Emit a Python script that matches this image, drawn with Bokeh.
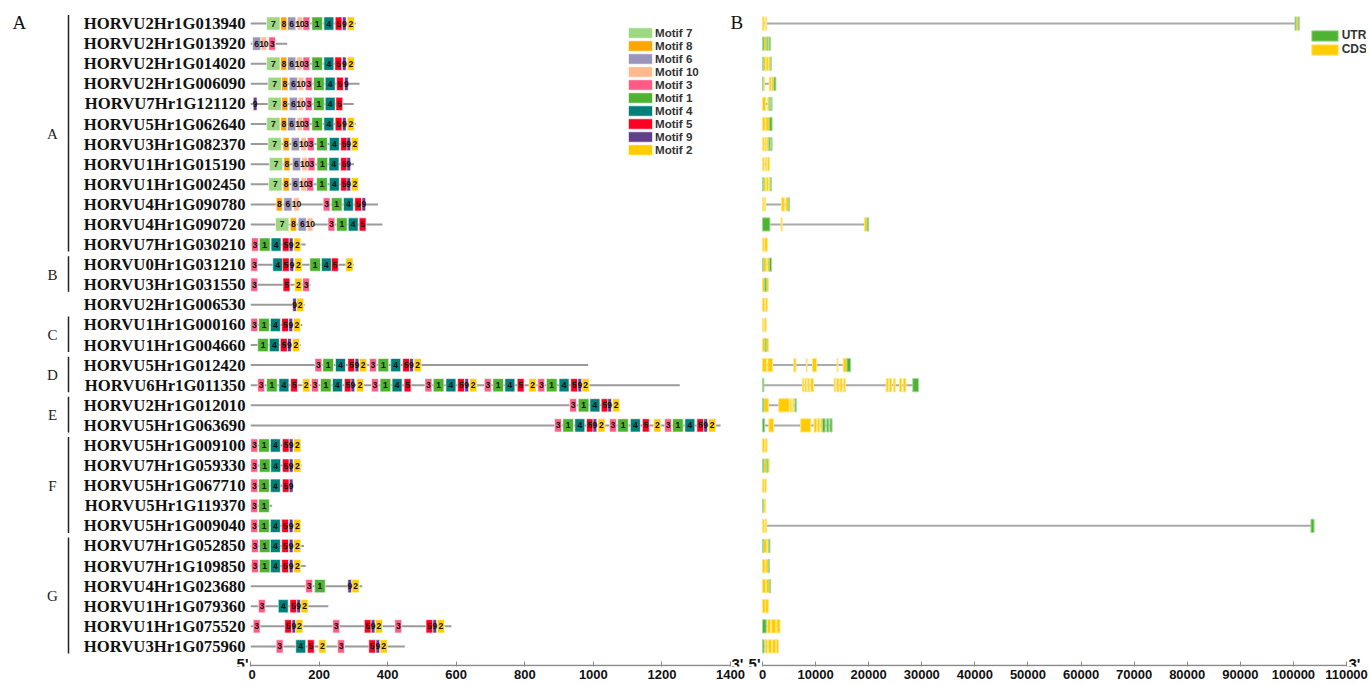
from bokeh.plotting import figure
from bokeh.layouts import row
from bokeh.models import Range1d, FixedTicker, BasicTickFormatter, Label, Legend, LegendItem
from bokeh.core.properties import value
from bokeh.embed import file_html
from bokeh.resources import INLINE

genes = ["HORVU2Hr1G013940", "HORVU2Hr1G013920", "HORVU2Hr1G014020", "HORVU2Hr1G006090",
         "HORVU7Hr1G121120", "HORVU5Hr1G062640", "HORVU3Hr1G082370", "HORVU1Hr1G015190",
         "HORVU1Hr1G002450", "HORVU4Hr1G090780", "HORVU4Hr1G090720", "HORVU7Hr1G030210",
         "HORVU0Hr1G031210", "HORVU3Hr1G031550", "HORVU2Hr1G006530", "HORVU1Hr1G000160",
         "HORVU1Hr1G004660", "HORVU5Hr1G012420", "HORVU6Hr1G011350", "HORVU2Hr1G012010",
         "HORVU5Hr1G063690", "HORVU5Hr1G009100", "HORVU7Hr1G059330", "HORVU5Hr1G067710",
         "HORVU5Hr1G119370", "HORVU5Hr1G009040", "HORVU7Hr1G052850", "HORVU7Hr1G109850",
         "HORVU4Hr1G023680", "HORVU1Hr1G079360", "HORVU1Hr1G075520", "HORVU3Hr1G075960"]

group_names = ["A", "B", "C", "D", "E", "F", "G"]
group_first = [0, 12, 15, 17, 19, 21, 26]
group_last = [11, 13, 16, 18, 20, 25, 31]

# protein lengths (aa)
a_len = [307, 107, 305, 318, 301, 307, 315, 302, 312, 372, 385, 161,
         302, 175, 158, 151, 146, 985, 1252, 1077, 1371, 146, 149, 124,
         63, 146, 156, 161, 326, 227, 586, 450]

motif_order = [7, 8, 6, 10, 3, 1, 4, 5, 9, 2]
motif_len = {7: 39, 8: 18, 6: 24, 10: 16, 3: 20, 1: 31, 4: 29, 5: 20, 9: 11, 2: 21}
motif_color = {7: "#9DD982", 8: "#FFA500", 6: "#9B95BC", 10: "#FFB98C", 3: "#FF5C85",
               1: "#4DB331", 4: "#008079", 5: "#FF0022", 9: "#623F8C", 2: "#FFCC00"}

a_motifs = [
    [7, 8, 6, 10, 3, 1, 4, 5, 9, 2],
    [6, 10, 3],
    [7, 8, 6, 10, 3, 1, 4, 5, 9, 2],
    [7, 8, 6, 10, 3, 1, 4, 5, 9],
    [9, 7, 8, 6, 10, 3, 1, 4, 5],
    [7, 8, 6, 10, 3, 1, 4, 5, 9, 2],
    [7, 8, 6, 10, 3, 1, 4, 5, 9, 2],
    [7, 8, 6, 10, 3, 1, 4, 5, 9],
    [7, 8, 6, 10, 3, 1, 4, 5, 9, 2],
    [8, 6, 10, 3, 1, 4, 5, 9],
    [7, 8, 6, 10, 3, 1, 4, 5],
    [3, 1, 4, 5, 9, 2],
    [3, 4, 5, 9, 2, 1, 4, 5, 2],
    [3, 5, 2, 3],
    [9, 2],
    [3, 1, 4, 5, 9, 2],
    [1, 4, 5, 9, 2],
    [3, 1, 4, 5, 9, 2, 3, 1, 4, 5, 9, 2],
    [3, 1, 4, 5, 2, 3, 1, 4, 5, 9, 2, 3, 1, 4, 5, 3, 1, 4, 5, 9, 2, 3, 1, 4, 5, 2, 3, 1, 4, 5, 9, 2],
    [3, 1, 4, 5, 9, 2],
    [3, 1, 4, 5, 9, 2, 3, 1, 4, 5, 2, 3, 1, 4, 5, 9, 2],
    [3, 1, 4, 5, 9, 2],
    [3, 1, 4, 5, 9, 2],
    [3, 1, 4, 5, 9],
    [3, 1],
    [3, 1, 4, 5, 9, 2],
    [3, 1, 4, 5, 9, 2],
    [3, 1, 4, 5, 9, 2],
    [3, 1, 9, 2],
    [3, 4, 5, 9, 2],
    [3, 5, 9, 2, 3, 5, 9, 2, 3, 5, 9, 2],
    [3, 4, 5, 2, 3, 5, 9, 2],
]

a_starts = [
    [47, 88, 108, 136, 153, 179, 214, 247, 268, 282],
    [6, 31, 53],
    [47, 88, 108, 135, 153, 179, 214, 246, 268, 282],
    [51, 91, 113, 139, 160, 184, 218, 251, 274],
    [8, 51, 91, 113, 139, 160, 184, 218, 249],
    [47, 88, 108, 136, 153, 179, 214, 247, 268, 282],
    [51, 95, 119, 147, 166, 193, 230, 263, 281, 294],
    [55, 97, 122, 150, 168, 194, 229, 263, 281],
    [53, 95, 119, 147, 164, 193, 230, 263, 281, 294],
    [75, 97, 126, 212, 236, 271, 304, 325],
    [73, 116, 139, 166, 226, 251, 285, 317],
    [3, 26, 60, 93, 113, 126],
    [1, 65, 93, 115, 129, 173, 207, 236, 278],
    [1, 95, 129, 152],
    [123, 134],
    [1, 24, 58, 91, 112, 125],
    [21, 55, 87, 108, 122],
    [188, 211, 248, 284, 305, 318, 347, 372, 409, 444, 464, 477],
    [21, 47, 83, 117, 152, 178, 204, 239, 274, 293, 309, 353, 378, 413, 448, 509, 533, 570,
     604, 625, 639, 682, 707, 742, 778, 812, 838, 863, 900, 934, 955, 967],
    [931, 956, 990, 1023, 1042, 1056],
    [887, 911, 946, 980, 999, 1013, 1047, 1071, 1108, 1143, 1176, 1208, 1231, 1267, 1302, 1322, 1336],
    [1, 24, 58, 93, 113, 126],
    [1, 26, 59, 93, 113, 126],
    [1, 24, 58, 93, 113],
    [1, 24],
    [1, 24, 58, 91, 113, 126],
    [3, 26, 58, 91, 113, 126],
    [3, 26, 58, 91, 113, 126],
    [161, 187, 284, 296],
    [23, 81, 115, 135, 147],
    [8, 100, 121, 132, 240, 332, 352, 364, 421, 512, 532, 545],
    [75, 132, 166, 199, 254, 345, 366, 378],
]

# gene structures (bp)
b_len = [101100, 1500, 1650, 2520, 1800, 1800, 1800, 1300, 1700, 5100, 20000, 900,
         1700, 1100, 900, 700, 1100, 16600, 29400, 6350, 13100, 850, 1250, 700,
         600, 103900, 1400, 1300, 1500, 1100, 3300, 3000]
b_utr = [
    [[100300, 100500], [100900, 101100]],
    [[0, 280], [750, 1000], [1250, 1500]],
    [[0, 150], [1500, 1650]],
    [[0, 100], [2140, 2520]],
    [[1300, 1500], [1700, 1800]],
    [[1300, 1800]],
    [[1200, 1450], [1650, 1800]],
    [],
    [[0, 200], [1500, 1700]],
    [[4900, 5100]],
    [[0, 1400], [19700, 20000]],
    [],
    [[0, 150], [1300, 1700]],
    [[400, 700]],
    [],
    [],
    [[500, 700]],
    [[15900, 16600]],
    [[0, 250], [28300, 29400]],
    [[0, 250], [6100, 6350]],
    [[0, 400], [11300, 11800], [12100, 12500], [12700, 13100]],
    [],
    [[0, 250], [750, 1000]],
    [],
    [[0, 150]],
    [[103300, 103900]],
    [[0, 200], [1200, 1400]],
    [[1100, 1300]],
    [[1300, 1500]],
    [],
    [[0, 700]],
    [[0, 300]],
]
b_cds = [
    [[0, 300], [550, 800], [100500, 100900]],
    [[280, 750], [1000, 1250]],
    [[150, 600], [700, 1100], [1200, 1500]],
    [[100, 380], [1260, 1640], [1760, 2140]],
    [[0, 600], [1000, 1300], [1500, 1700]],
    [[0, 500], [650, 1300]],
    [[0, 300], [450, 700], [850, 1200], [1450, 1650]],
    [[0, 300], [500, 800], [950, 1300]],
    [[200, 600], [750, 1100], [1250, 1500]],
    [[0, 250], [350, 600], [3600, 4100], [4400, 4900]],
    [[3500, 3700], [19200, 19700]],
    [[0, 300], [400, 900]],
    [[150, 700], [900, 1300]],
    [[0, 400], [700, 1100]],
    [[0, 400], [550, 900]],
    [[0, 200], [350, 700]],
    [[0, 500], [700, 1100]],
    [[0, 750], [1000, 1900], [5900, 6300], [8250, 8400], [9400, 10200], [14050, 14200], [15200, 15900]],
    [[7500, 7800], [8000, 8300], [8500, 8800], [9100, 9600], [13500, 13800], [14000, 14400],
     [14600, 15000], [15300, 15600], [23300, 23700], [23900, 24300], [24700, 25000],
     [25800, 26200], [26500, 27000]],
    [[250, 1100], [3050, 5050], [5200, 5500], [5650, 5900]],
    [[1200, 2100], [7200, 9100], [9700, 10200], [10400, 10800], [11000, 11300]],
    [[0, 400], [500, 850]],
    [[250, 750], [1000, 1250]],
    [[0, 300], [400, 700]],
    [[300, 600]],
    [[0, 300], [500, 800]],
    [[200, 800], [900, 1200]],
    [[0, 500], [650, 1100]],
    [[0, 600], [750, 1300]],
    [[0, 500], [600, 1100]],
    [[900, 1500], [1700, 2500], [2700, 3300]],
    [[500, 900], [1100, 1700], [1900, 2500], [2600, 3000]],
]

a_ticks = [0, 200, 400, 600, 800, 1000, 1200, 1400]
b_ticks = [0, 10000, 20000, 30000, 40000, 50000, 60000, 70000, 80000, 90000, 100000, 110000]

H = 685
TOP = 11
BOTTOM = 19
FRAME_BOTTOM = H - BOTTOM
Y_TOP, Y_BOT = -0.6, 32.0
HALF = 0.33
LINE_COLOR = "#9a9a9a"
AX_COLOR = "#8a8a8a"
n = len(genes)
rows = list(range(n))

# pixel geometry of the two panels
A_FRAME = 495          # px, frame of panel A
A_PX = 480             # px from 0 to 1400
B_FRAME = 621          # px, frame of panel B
B_LEFT_PAD = 17        # px left of 0
B_PX = 584             # px from 0 to 110000
LEG_H = 13             # legend row pitch


def style(p):
    p.outline_line_color = None
    p.xgrid.visible = False
    p.ygrid.visible = False
    p.background_fill_color = "white"
    p.border_fill_color = "white"


def end_label(p, x, text, align, offset):
    p.add_layout(Label(x=x, y=3, x_units="data", y_units="screen", x_offset=offset, text=text,
                       text_font="Liberation Sans", text_font_style="bold", text_font_size="15px",
                       text_align=align, text_baseline="middle", text_color="#111111"))


# ---------- left label figure ----------
pg = figure(width=248, height=H, x_range=Range1d(0, 248), y_range=Range1d(Y_BOT, Y_TOP),
            output_backend="svg", toolbar_location=None,
            min_border_left=0, min_border_right=0, min_border_top=TOP, min_border_bottom=BOTTOM)
style(pg)
pg.axis.visible = False
pg.text(x=245, y=rows, text=genes, text_align="right", text_baseline="middle",
        text_font=value("Liberation Serif"), text_font_style="bold", text_font_size="16.7px",
        text_color="#111111")
gy0 = [f - 0.42 for f in group_first]
gy1 = [l + 0.35 for l in group_last]
pg.segment(x0=68, x1=68, y0=gy0, y1=gy1, line_color="#222222", line_width=1.5)
pg.text(x=52, y=[(f + l) / 2 for f, l in zip(group_first, group_last)], text=group_names,
        text_align="center", text_baseline="middle", text_font=value("Liberation Serif"),
        text_font_size="15px", text_color="#222222")
pg.add_layout(Label(x=12, y=644, x_units="screen", y_units="screen", text="A",
                    text_font="Liberation Serif", text_font_size="19px", text_align="left",
                    text_baseline="middle", text_color="#111111"))
pg.add_layout(Label(x=248, y=3, x_units="screen", y_units="screen", text="5'",
                    text_font="Liberation Sans", text_font_style="bold", text_font_size="15px",
                    text_align="right", text_baseline="middle", text_color="#111111"))


def style_xaxis(p, ticks):
    ax = p.xaxis[0]
    ax.ticker = FixedTicker(ticks=ticks)
    ax.formatter = BasicTickFormatter(use_scientific=False)
    ax.axis_line_color = None
    ax.major_tick_line_color = AX_COLOR
    ax.major_tick_line_width = 1
    ax.major_tick_in = 5
    ax.major_tick_out = 0
    ax.minor_tick_line_color = None
    ax.major_label_text_font = "Liberation Sans"
    ax.major_label_text_font_style = "bold"
    ax.major_label_text_font_size = "13px"
    ax.major_label_text_color = "#111111"
    ax.major_label_standoff = 3
    p.yaxis.visible = False
    # axis baseline limited to the tick extent
    p.segment(x0=ticks[0], x1=ticks[-1], y0=Y_BOT - 0.05, y1=Y_BOT - 0.05,
              line_color=AX_COLOR, line_width=1.5)


# ---------- panel A ----------
a_scale = A_PX / a_ticks[-1]
pa = figure(width=2 + A_FRAME, height=H, x_range=Range1d(0, A_FRAME / a_scale), y_range=pg.y_range,
            output_backend="svg", toolbar_location=None,
            min_border_left=2, min_border_right=0, min_border_top=TOP, min_border_bottom=BOTTOM)
style(pa)
pa.segment(x0=0, x1=a_len, y0=rows, y1=rows, line_color=LINE_COLOR, line_width=2)

items = []
lab_x, lab_y, lab_t = [], [], []
for m in motif_order:
    L, R, T, B = [], [], [], []
    for i in range(n):
        for mm, s in zip(a_motifs[i], a_starts[i]):
            if mm == m:
                L.append(s)
                R.append(s + motif_len[m])
                T.append(i - HALF)
                B.append(i + HALF)
    r = pa.quad(left=L, right=R, top=T, bottom=B, fill_color=motif_color[m],
                line_color="white", line_alpha=0.6, line_width=1)
    items.append(LegendItem(label="Motif %d" % m, renderers=[r]))
for i in range(n):
    for mm, s in zip(a_motifs[i], a_starts[i]):
        lab_x.append(s + motif_len[mm] / 2)
        lab_y.append(i)
        lab_t.append(str(mm))
pa.text(x=lab_x, y=lab_y, text=lab_t, text_align="center", text_baseline="middle",
        text_font=value("Liberation Sans"), text_font_style="bold", text_font_size="8.5px",
        text_color="#111111")
style_xaxis(pa, a_ticks)

leg_a = Legend(items=items, location=(375, FRAME_BOTTOM - 26.4 - 10 * LEG_H), orientation="vertical",
               glyph_width=30, glyph_height=LEG_H, label_height=LEG_H, spacing=0, padding=0, margin=0,
               label_standoff=0, border_line_color=None, background_fill_alpha=0,
               label_text_font="Liberation Sans", label_text_font_style="bold",
               label_text_font_size="11.6px", label_text_color="#333333")
pa.add_layout(leg_a)
end_label(pa, a_ticks[-1], "3'", "left", 1)
pa.add_layout(Label(x=a_ticks[-1], y=644, x_units="data", y_units="screen", x_offset=0, text="B",
                    text_font="Liberation Serif", text_font_size="19px",
                    text_align="left", text_baseline="middle", text_color="#111111"))

# ---------- panel B ----------
b_scale = B_PX / b_ticks[-1]
pb = figure(width=B_FRAME + 4, height=H,
            x_range=Range1d(-B_LEFT_PAD / b_scale, (B_FRAME - B_LEFT_PAD) / b_scale),
            y_range=pg.y_range, output_backend="svg", toolbar_location=None,
            min_border_left=0, min_border_right=4, min_border_top=TOP, min_border_bottom=BOTTOM)
style(pb)
pb.segment(x0=0, x1=b_len, y0=rows, y1=rows, line_color="#aaaaaa", line_width=2)


def blocks(lst):
    L, R, T, B = [], [], [], []
    for i, segs in enumerate(lst):
        for s, e in segs:
            L.append(s)
            R.append(e)
            T.append(i - HALF)
            B.append(i + HALF)
    return L, R, T, B


L, R, T, B = blocks(b_cds)
r_cds = pb.quad(left=L, right=R, top=T, bottom=B, fill_color="#FFCC00", line_color="#FFE680",
                line_width=1)
L, R, T, B = blocks(b_utr)
r_utr = pb.quad(left=L, right=R, top=T, bottom=B, fill_color="#4DB331", line_color="#A6D998",
                line_width=1)
style_xaxis(pb, b_ticks)
leg_b = Legend(items=[LegendItem(label="UTR", renderers=[r_utr]), LegendItem(label="CDS", renderers=[r_cds])],
               location=(1311 - 3.3 - 745, FRAME_BOTTOM - 29.4 - 2 * 13.5), orientation="vertical",
               glyph_width=33, glyph_height=13, label_height=13, spacing=0, padding=0, margin=0,
               label_standoff=1, border_line_color=None, background_fill_alpha=0,
               label_text_font="Liberation Sans", label_text_font_style="bold",
               label_text_font_size="12px", label_text_color="#333333")
pb.add_layout(leg_b)
end_label(pb, 0, "5'", "right", -2)
end_label(pb, b_ticks[-1], "3'", "left", 2)

layout = row(pg, pa, pb)
open("out.html", "w").write(file_html(layout, INLINE))
